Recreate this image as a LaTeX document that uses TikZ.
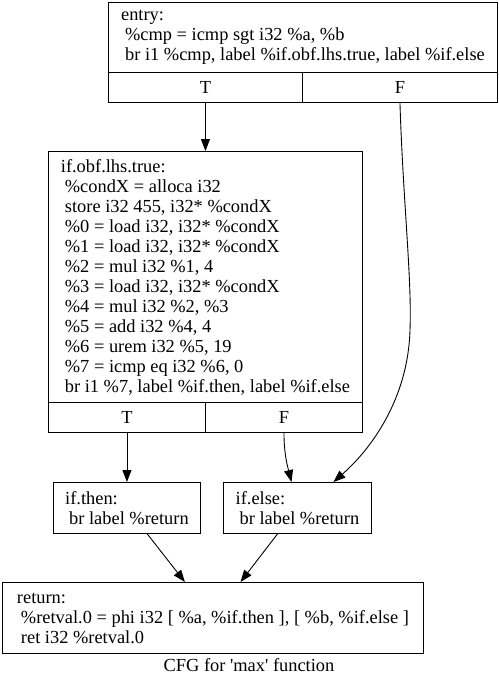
\documentclass[tikz,border=0pt]{standalone}
\usepackage{fontspec}
\setmainfont{Liberation Serif}
\usepackage{tikz}
\usetikzlibrary{arrows.meta}
\newcommand{\indt}{\hspace*{4pt}}

\begin{document}
\begin{tikzpicture}[x=1pt, y=-1pt, line width=0.9pt,
  >={Triangle[length=12pt,width=9pt]},
  block/.style={draw, rectangle, inner sep=0pt, anchor=north west, align=left, font=\fontsize{18.4}{20}\selectfont},
  port/.style={draw, rectangle, inner sep=0pt, anchor=north west, minimum height=30pt, font=\fontsize{18.4}{20}\selectfont}]
\useasboundingbox (0,0) rectangle (498,674);
%%%%% Blocks %%%%%
\node[block, minimum width=389pt, minimum height=70pt] (entry) at (108,2) {entry:\\ \indt\%cmp = icmp sgt i32 \%a, \%b\\ \indt br i1 \%cmp, label \%if.obf.lhs.true, label \%if.else};
\node[port, minimum width=194pt] (entryT) at (108,72) {T};
\node[port, minimum width=195pt] (entryF) at (302,72) {F};
\node[block, minimum width=314pt, minimum height=251pt] (obf) at (48,151) {if.obf.lhs.true:\\
 \indt\%condX = alloca i32\\
 \indt store i32 455, i32* \%condX\\
 \indt\%0 = load i32, i32* \%condX\\
 \indt\%1 = load i32, i32* \%condX\\
 \indt\%2 = mul i32 \%1, 4\\
 \indt\%3 = load i32, i32* \%condX\\
 \indt\%4 = mul i32 \%2, \%3\\
 \indt\%5 = add i32 \%4, 4\\
 \indt\%6 = urem i32 \%5, 19\\
 \indt\%7 = icmp eq i32 \%6, 0\\
 \indt br i1 \%7, label \%if.then, label \%if.else};
\node[port, minimum width=157pt] (obfT) at (48,402) {T};
\node[port, minimum width=157pt] (obfF) at (205,402) {F};
\node[block, minimum width=147pt, minimum height=51pt] (ifthen) at (53,482) {if.then:\\ \indt br label \%return};
\node[block, minimum width=148pt, minimum height=51pt] (ifelse) at (223,482) {if.else:\\ \indt br label \%return};
\node[block, minimum width=421pt, minimum height=71pt] (ret) at (2,582) {return:\\ \indt\%retval.0 = phi i32 [ \%a, \%if.then ], [ \%b, \%if.else ]\\ \indt ret i32 \%retval.0};
\node[font=\fontsize{18.4}{20}\selectfont, inner sep=0pt] (caption) at (249,665) {CFG for \textquotesingle max\textquotesingle\ function};
%%%%% Edges %%%%%
\draw[->] (entryT) -- (obf);
\draw[->] (entryF.south) .. controls (403,200) and (412,280) .. (410,330) .. controls (408,400) and (370,450) .. ([xshift=36pt]ifelse.north);
\draw[->] (obfT) -- (ifthen);
\draw[->] (obfF.south) .. controls (284,455) and (288,468) .. ([xshift=-6pt]ifelse.north);
\draw[->] (ifthen) -- (ret);
\draw[->] (ifelse) -- (ret);
\end{tikzpicture}
\end{document}
